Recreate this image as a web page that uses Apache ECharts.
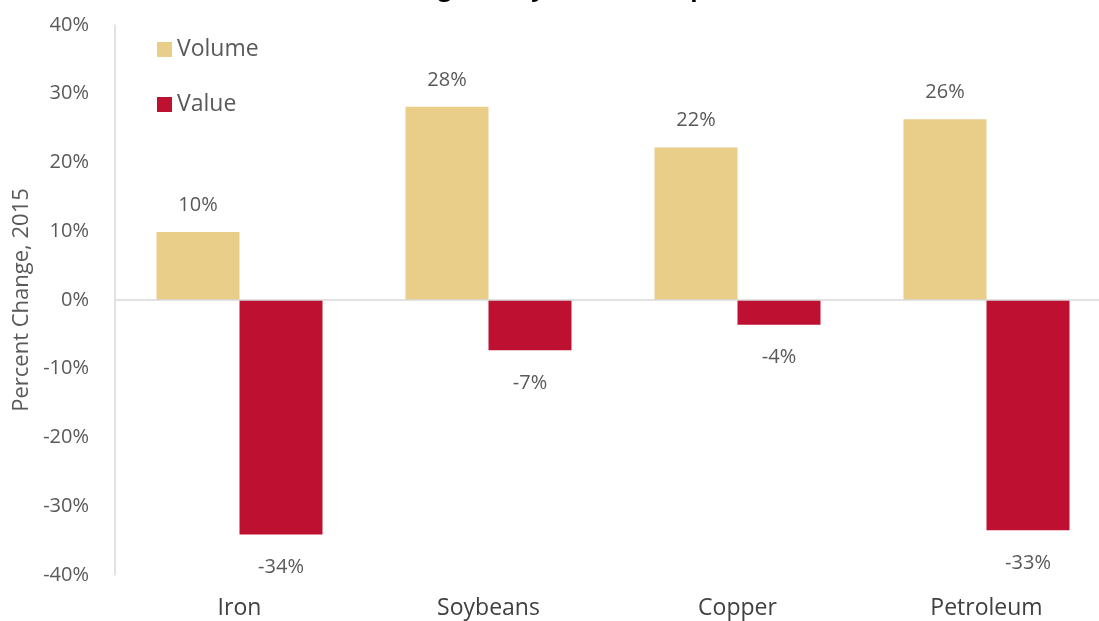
<!DOCTYPE html>
<html>
<head>
<meta charset="utf-8">
<script src="https://cdn.jsdelivr.net/npm/echarts@6/dist/echarts.min.js"></script>
<style>
  html, body { margin: 0; padding: 0; background: #fff; }
  #chart { width: 1099px; height: 621px; }
</style>
</head>
<body>
<div id="chart"></div>
<script>
// 数据
const categories = ["Iron", "Soybeans", "Copper", "Petroleum"];
const volumeData = [9.9, 28.1, 22.2, 26.3];
const valueData = [-34.1, -7.3, -3.6, -33.5];
const seriesNames = ["Volume", "Value"];

const fontFamily = '"Open Sans", "Noto Sans", sans-serif';
const textColor = "#595959";

const myChart = echarts.init(document.getElementById("chart"), null, { renderer: "canvas" });

const pctLabel = (p) => Math.round(p.value) + "%";

myChart.setOption({
  animation: false,
  title: {
    // 标题被裁掉，只露出下伸部分
    text: "Percent Change in Key Brazilian Exports, 2015",
    left: "center",
    top: -28,
    textStyle: { fontSize: 24, fontWeight: "bold", color: "#000", fontFamily: fontFamily },
  },
  color: ["#E9CE89", "#BE1131"],
  legend: {
    orient: "vertical",
    left: 152,
    top: 33,
    itemWidth: 15,
    itemHeight: 15,
    itemGap: 32,
    icon: "rect",
    textStyle: { fontSize: 23, color: textColor, fontFamily: fontFamily },
    data: seriesNames,
  },
  grid: {
    top: 25,
    bottom: 46,
    left: 115,
    width: 996, // 右侧超出画布
    outerBoundsMode: "none",
    containLabel: false,
  },
  xAxis: {
    type: "category",
    data: categories,
    axisLine: { show: false },
    axisTick: { show: false },
    axisLabel: {
      interval: 0,
      margin: 22,
      fontSize: 23,
      color: "#404040",
      fontFamily: fontFamily,
      verticalAlign: "top",
    },
  },
  yAxis: {
    type: "value",
    min: -40,
    max: 40,
    interval: 10,
    name: "Percent Change, 2015",
    nameLocation: "middle",
    nameGap: 80,
    nameTextStyle: { fontSize: 22, color: textColor, fontFamily: fontFamily },
    axisLine: { show: true, lineStyle: { color: "#D9D9D9", width: 1.5 } },
    axisTick: { show: false },
    splitLine: { show: false },
    axisLabel: {
      formatter: "{value}%",
      margin: 26,
      fontSize: 20,
      color: textColor,
      fontFamily: fontFamily,
    },
  },
  series: [
    {
      name: seriesNames[0],
      type: "bar",
      data: volumeData,
      barWidth: 83,
      barGap: "0%",
      label: {
        show: true,
        position: "top",
        distance: 17,
        formatter: pctLabel,
        fontSize: 20,
        color: textColor,
        fontFamily: fontFamily,
      },
      markLine: {
        silent: true,
        symbol: "none",
        label: { show: false },
        lineStyle: { color: "#D9D9D9", width: 1.5, type: "solid" },
        data: [{ yAxis: 0 }],
      },
    },
    {
      name: seriesNames[1],
      type: "bar",
      data: valueData,
      barWidth: 83,
      barGap: "0%",
      label: {
        show: true,
        position: "bottom",
        distance: 23,
        formatter: pctLabel,
        fontSize: 20,
        color: textColor,
        fontFamily: fontFamily,
      },
    },
  ],
});
</script>
</body>
</html>
